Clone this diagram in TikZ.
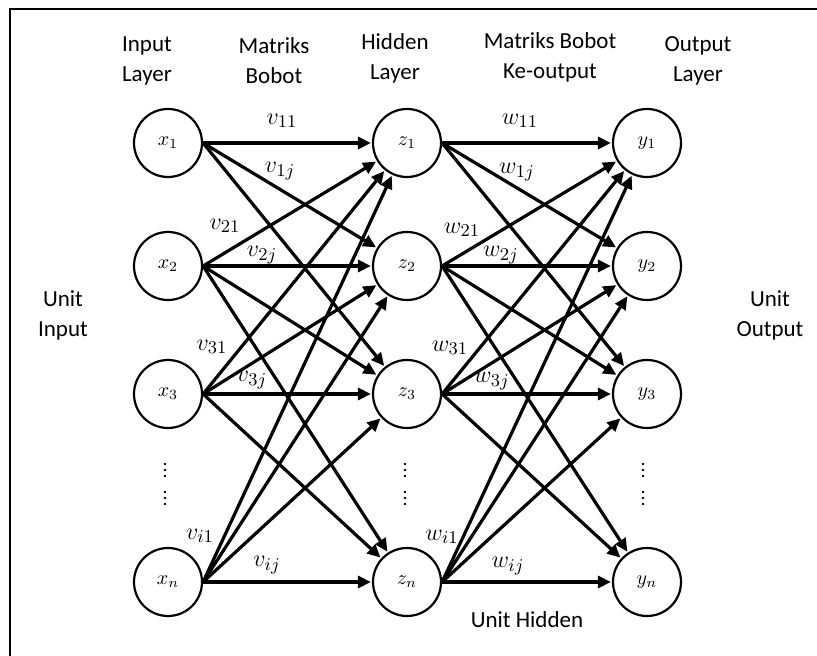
\documentclass[tikz,border=0pt]{standalone}
\usepackage[no-math]{fontspec}
\setmainfont{Carlito}
\usetikzlibrary{arrows.meta}
\begin{document}
\begin{tikzpicture}[x=0.5pt,y=-0.5pt,
  neuron/.style={circle,draw,line width=1.1pt,minimum size=34pt,inner sep=0pt,font=\fontsize{10}{12}\selectfont},
  conn/.style={line width=1.6pt,-{Triangle[length=6.5pt,width=6pt]},shorten >=0.5pt},
  lbl/.style={align=center,inner sep=0pt,font=\fontsize{11.5}{15}\selectfont},
  wlbl/.style={inner sep=0pt,font=\fontsize{13}{15}\selectfont},
  frame/.style={line width=1pt}]
\useasboundingbox (0,0) rectangle (817,656);
% frame (only top and left edges are visible)
\draw[frame] (10,656) -- (10,9) -- (817,9);
% neurons
\foreach \i/\yy in {1/143,2/266,3/394,n/582}{
  \node[neuron] (x\i) at (168,\yy) {$x_{\i}$};
  \node[neuron] (z\i) at (407,\yy) {$z_{\i}$};
  \node[neuron] (y\i) at (647,\yy) {$y_{\i}$};
}
% connections
\foreach \s/\t in {1/1,1/2,1/3,2/1,2/2,2/3,2/n,3/1,3/2,3/3,3/n,n/1,n/2,n/3,n/n}{
  \draw[conn] (x\s.east) -- (z\t);
  \draw[conn] (z\s.east) -- (y\t);
}
% vertical dots
\foreach \xx in {165,405,643}{
  \foreach \yy in {464,470,476,492,498,504}{
    \fill (\xx,\yy) circle (1.4);
  }
}
% header labels
\node[lbl] (tInput) at (147,61) {Input\\Layer};
\node[lbl] (tMatV) at (274,61) {Matriks\\Bobot};
\node[lbl] (tHidden) at (395,58) {Hidden\\Layer};
\node[lbl] (tMatW) at (550,57) {Matriks Bobot\\Ke-output};
\node[lbl] (tOutput) at (698,61) {Output\\Layer};
\node[lbl] (uIn) at (63,315) {Unit\\Input};
\node[lbl] (uOut) at (770,315) {Unit\\Output};
\node[lbl] (uHid) at (527,620) {Unit Hidden};
% weight labels
\node[wlbl] (v11) at (282,121) {$v_{11}$};
\node[wlbl] (v1j) at (280,171) {$v_{1j}$};
\node[wlbl] (v21) at (225,226) {$v_{21}$};
\node[wlbl] (v2j) at (262,255) {$v_{2j}$};
\node[wlbl] (v31) at (212,347) {$v_{31}$};
\node[wlbl] (v3j) at (252,380) {$v_{3j}$};
\node[wlbl] (vi1) at (200,536) {$v_{i1}$};
\node[wlbl] (vij) at (267,565) {$v_{ij}$};
\node[wlbl] (w11) at (520,121) {$w_{11}$};
\node[wlbl] (w1j) at (517,172) {$w_{1j}$};
\node[wlbl] (w21) at (462,230) {$w_{21}$};
\node[wlbl] (w2j) at (501,255) {$w_{2j}$};
\node[wlbl] (w31) at (450,348) {$w_{31}$};
\node[wlbl] (w3j) at (492,381) {$w_{3j}$};
\node[wlbl] (wi1) at (442,537) {$w_{i1}$};
\node[wlbl] (wij) at (508,566) {$w_{ij}$};
\end{tikzpicture}
\end{document}
